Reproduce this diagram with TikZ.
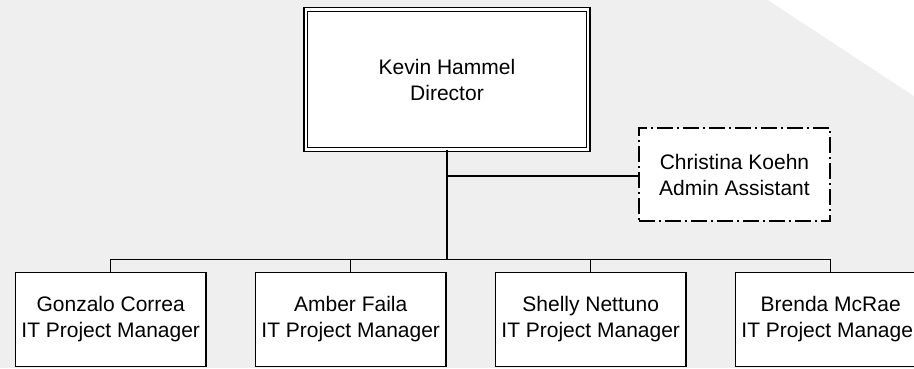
\documentclass[tikz,border=0pt]{standalone}
\usepackage{fontspec}
\setmainfont{Liberation Sans}
\usepackage{xcolor}
\usepackage{tikz}
\usetikzlibrary{positioning}
\definecolor{chartgray}{RGB}{239,239,239}

\begin{document}
\begin{tikzpicture}[
    x=1pt, y=-1pt,
    node distance=48pt,
    person/.style={draw=black, fill=white, rectangle, line width=1.3pt, inner sep=0pt, minimum width=190.7pt, minimum height=93.7pt, align=center, font=\fontsize{21}{26}\selectfont},
    boss/.style={person, line width=1.5pt, double=white, double distance=2.4pt, minimum width=282.5pt, minimum height=140pt},
    assistant/.style={person, line width=1.6pt, dash pattern=on 16pt off 4pt on 2pt off 4pt, minimum width=191.4pt, minimum height=93.4pt},
    link/.style={draw=black, line width=1.3pt}
]
    % Canvas
    \useasboundingbox (0,0) rectangle (914,368);
    \clip (0,0) rectangle (914,368);
    \fill [chartgray] (0,0) rectangle (914,368);
    \fill [white] (768,0) -- (914,0) -- (914,96) -- cycle;

    % Nodes
    \node (kevin) [boss] at (447,79.5) {Kevin Hammel\\Director};
    \node (christina) [assistant] at (734.5,174.5) {Christina Koehn\\Admin Assistant};
    \node (gonzalo) [person] at (110.7,319.5) {Gonzalo Correa\\IT Project Manager};
    \node (amber) [person, right=of gonzalo] {Amber Faila\\IT Project Manager};
    \node (shelly) [person, right=of amber] {Shelly Nettuno\\IT Project Manager};
    \node (brenda) [person, right=of shelly] {Brenda McRae\\IT Project Manager};
    \coordinate (bus) at (447,259.5);

    % Connectors
    \draw [link] (kevin.south) -- (bus);
    \draw [link] (kevin.south |- 0,176) -- (christina.west |- 0,176);
    \draw [link] (gonzalo.north) |- (bus) -| (brenda.north);
    \draw [link] (amber.north) -- (amber.north |- bus);
    \draw [link] (shelly.north) -- (shelly.north |- bus);
\end{tikzpicture}
\end{document}
